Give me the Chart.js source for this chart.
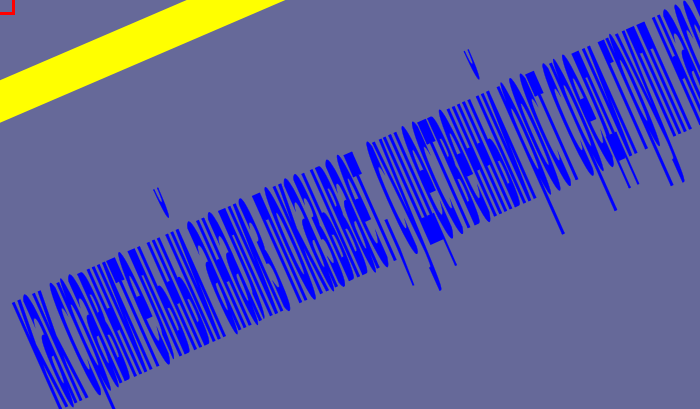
<!DOCTYPE html>
<html>
<head>
<meta charset="utf-8">
<script src="https://cdn.jsdelivr.net/npm/chart.js@4"></script>
<style>
  html, body { margin: 0; padding: 0; background: #666999; }
  #chart-box { width: 700px; height: 409px; }
</style>
</head>
<body>
<div id="chart-box"><canvas id="chart"></canvas></div>
<script>
// yellow band, in the chart's own units (x 0..700, y 0..409 from the top)
const bandX = [-60, 320];
const bandY = [127.3, -36.1];

// the long caption that lies along the band
const captionText = 'как сравнительный анализ показывает, существенный рост среди групп населения';
const captionAt = [58, 410];
const captionAngle = -24;

const bgColor = '#666999';

const backdrop = {
    id: 'backdrop',
    beforeDraw(chart) {
        const ctx = chart.ctx;
        ctx.save();
        ctx.fillStyle = bgColor;
        ctx.fillRect(0, 0, chart.width, chart.height);
        ctx.restore();
    }
};

const caption = {
    id: 'caption',
    afterDatasetsDraw(chart) {
        const ctx = chart.ctx;
        const x = chart.scales.x.getPixelForValue(captionAt[0]);
        const y = chart.scales.y.getPixelForValue(captionAt[1]);
        ctx.save();
        // little red box in the corner
        ctx.strokeStyle = '#ff0000';
        ctx.lineWidth = 3;
        ctx.strokeRect(-10, -10, 23.5, 23.5);
        ctx.translate(x, y);
        ctx.rotate(captionAngle * Math.PI / 180);
        ctx.fillStyle = '#0000ff';
        ctx.strokeStyle = '#0000ff';
        ctx.lineWidth = 1.5;
        ctx.font = 'bold 212px "DejaVu Sans"';
        ctx.textBaseline = 'alphabetic';
        ctx.fillText(captionText, 0, 0, 800);
        ctx.strokeText(captionText, 0, 0, 800);
        ctx.restore();
    }
};

new Chart(document.getElementById('chart'), {
    type: 'line',
    data: {
        datasets: [{
            data: bandX.map((x, i) => ({ x, y: bandY[i] })),
            borderColor: '#ffff00',
            borderWidth: 39,
            borderCapStyle: 'butt',
            pointRadius: 0,
            fill: false,
            clip: false
        }]
    },
    options: {
        responsive: true,
        maintainAspectRatio: false,
        animation: false,
        layout: { padding: 0 },
        plugins: {
            legend: { display: false },
            tooltip: { enabled: false }
        },
        scales: {
            x: { type: 'linear', min: 0, max: 700, display: false },
            y: { type: 'linear', min: 0, max: 409, reverse: true, display: false }
        }
    },
    plugins: [backdrop, caption]
});
</script>
</body>
</html>
